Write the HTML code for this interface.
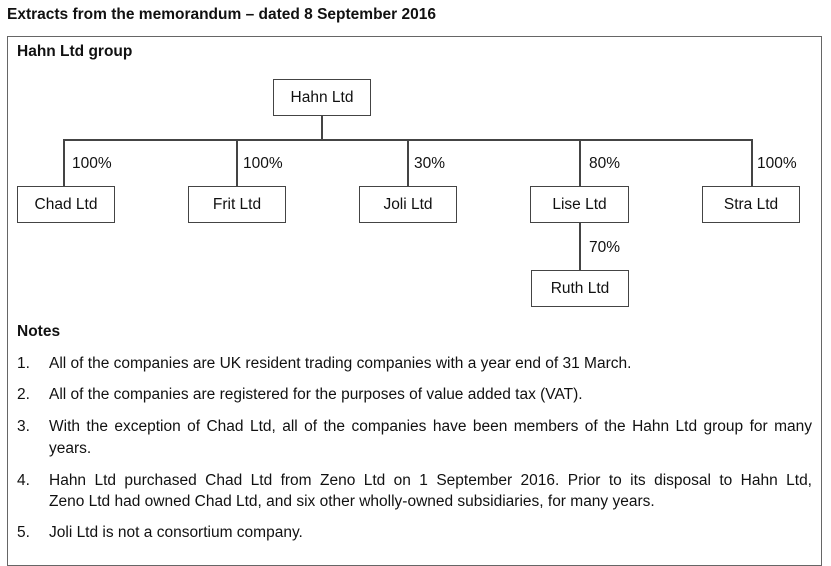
<!DOCTYPE html>
<html><head><meta charset="utf-8"><style>
body{margin:0;width:831px;height:548px;overflow:hidden;background:#fff;font-family:"Liberation Sans",sans-serif;color:#111;font-size:15.5px;position:relative}
.a{position:absolute;white-space:nowrap}
.b{position:absolute;border:1.5px solid #444;box-sizing:border-box;height:37px;text-align:center;line-height:36px;background:#fff}
.l{position:absolute;background:#444}
.j{position:absolute;left:49px;width:763px;text-align:justify;text-align-last:justify;white-space:nowrap}
</style></head><body>
<div class="a" style="left:7px;top:6px;font-weight:bold">Extracts from the memorandum – dated 8 September 2016</div>
<div style="position:absolute;left:7px;top:36px;width:815px;height:530px;border:1.5px solid #666;box-sizing:border-box"></div>
<div class="a" style="left:17px;top:43px;font-weight:bold">Hahn Ltd group</div>
<div class="l" style="left:321px;top:115px;width:1.5px;height:24px"></div>
<div class="l" style="left:63px;top:139px;width:689px;height:1.5px"></div>
<div class="l" style="left:63px;top:139px;width:1.5px;height:47px"></div>
<div class="l" style="left:236px;top:139px;width:1.5px;height:47px"></div>
<div class="l" style="left:407px;top:139px;width:1.5px;height:47px"></div>
<div class="l" style="left:579px;top:139px;width:1.5px;height:47px"></div>
<div class="l" style="left:751px;top:139px;width:1.5px;height:47px"></div>
<div class="l" style="left:579px;top:222px;width:1.5px;height:48px"></div>
<div class="b" style="left:273px;top:79px;width:98px">Hahn Ltd</div>
<div class="b" style="left:17px;top:186px;width:98px">Chad Ltd</div>
<div class="b" style="left:188px;top:186px;width:98px">Frit Ltd</div>
<div class="b" style="left:359px;top:186px;width:98px">Joli Ltd</div>
<div class="b" style="left:530px;top:186px;width:99px">Lise Ltd</div>
<div class="b" style="left:702px;top:186px;width:98px">Stra Ltd</div>
<div class="b" style="left:531px;top:270px;width:98px">Ruth Ltd</div>
<div class="a" style="left:72px;top:155px">100%</div>
<div class="a" style="left:243px;top:155px">100%</div>
<div class="a" style="left:414px;top:155px">30%</div>
<div class="a" style="left:589px;top:155px">80%</div>
<div class="a" style="left:757px;top:155px">100%</div>
<div class="a" style="left:589px;top:239px">70%</div>
<div class="a" style="left:17px;top:323px;font-weight:bold">Notes</div>
<div class="a" style="left:17px;top:355px">1.</div>
<div class="a" style="left:49px;top:355px">All of the companies are UK resident trading companies with a year end of 31 March.</div>
<div class="a" style="left:17px;top:386px">2.</div>
<div class="a" style="left:49px;top:386px">All of the companies are registered for the purposes of value added tax (VAT).</div>
<div class="a" style="left:17px;top:418px">3.</div>
<div class="j" style="top:418px">With the exception of Chad Ltd, all of the companies have been members of the Hahn Ltd group for many</div>
<div class="a" style="left:49px;top:440px">years.</div>
<div class="a" style="left:17px;top:472px">4.</div>
<div class="j" style="top:472px">Hahn Ltd purchased Chad Ltd from Zeno Ltd on 1 September 2016. Prior to its disposal to Hahn Ltd,</div>
<div class="a" style="left:49px;top:493px">Zeno Ltd had owned Chad Ltd, and six other wholly-owned subsidiaries, for many years.</div>
<div class="a" style="left:17px;top:524px">5.</div>
<div class="a" style="left:49px;top:524px">Joli Ltd is not a consortium company.</div>
</body></html>
